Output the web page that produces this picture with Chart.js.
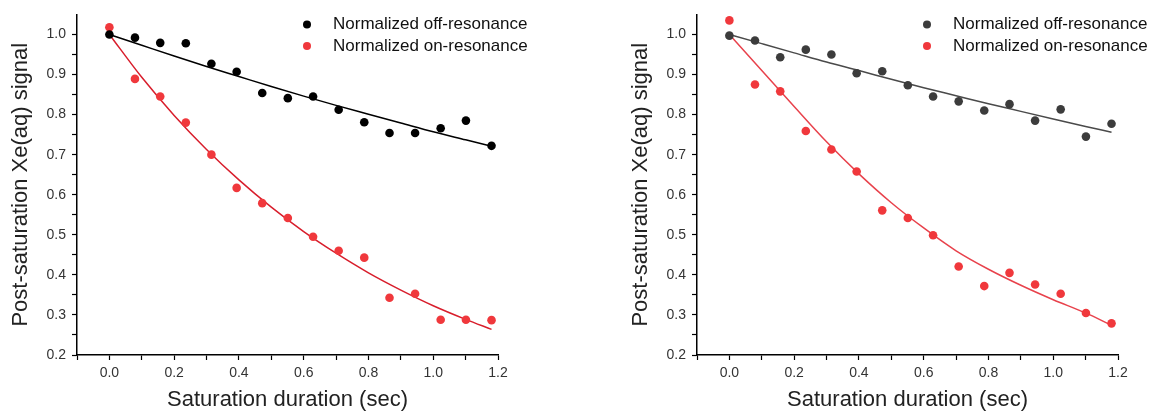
<!DOCTYPE html>
<html>
<head>
<meta charset="utf-8">
<script src="https://cdn.jsdelivr.net/npm/chart.js@4.4.1/dist/chart.umd.min.js"></script>
<style>
  body { margin: 0; background: #fff; }
  #wrap { position: relative; width: 1156px; height: 414px; }
  canvas { position: absolute; top: 0; }
</style>
</head>
<body>
<div id="wrap">
  <canvas id="chartA" width="620" height="414" style="left:0"></canvas>
  <canvas id="chartB" width="536" height="414" style="left:620px"></canvas>
</div>
<script>
// saturation duration (sec) of each measurement
const duration = [0, 0.079, 0.157, 0.236, 0.315, 0.393, 0.472, 0.551, 0.629, 0.708, 0.787, 0.865, 0.944, 1.023, 1.101, 1.18];

// left panel
const offResA = [1.000, 0.992, 0.979, 0.978, 0.927, 0.907, 0.854, 0.841, 0.845, 0.812, 0.781, 0.754, 0.754, 0.766, 0.785, 0.722];
const onResA  = [1.018, 0.889, 0.845, 0.780, 0.700, 0.617, 0.579, 0.542, 0.495, 0.460, 0.443, 0.343, 0.353, 0.288, 0.288, 0.287];
// right panel
const offResB = [0.997, 0.985, 0.943, 0.962, 0.950, 0.903, 0.908, 0.873, 0.845, 0.833, 0.810, 0.826, 0.785, 0.813, 0.745, 0.777];
const onResB  = [1.035, 0.875, 0.858, 0.759, 0.713, 0.658, 0.561, 0.542, 0.499, 0.421, 0.372, 0.405, 0.376, 0.353, 0.305, 0.279];

// fitted curves
const fitDuration = [0, 0.1, 0.2, 0.3, 0.4, 0.5, 0.6, 0.7, 0.8, 0.9, 1.0, 1.1, 1.18];
const offFitA = [1.000, 0.973, 0.946, 0.920, 0.895, 0.870, 0.846, 0.823, 0.801, 0.779, 0.757, 0.737, 0.721];
const onFitA  = [1.000, 0.893, 0.798, 0.713, 0.637, 0.569, 0.508, 0.454, 0.405, 0.362, 0.323, 0.289, 0.264];
const offFitB = [1.000, 0.977, 0.954, 0.931, 0.910, 0.888, 0.867, 0.847, 0.827, 0.808, 0.789, 0.770, 0.756];
const onFitB  = [1.000, 0.910, 0.820, 0.732, 0.652, 0.580, 0.517, 0.460, 0.414, 0.374, 0.338, 0.305, 0.274];

const xLabels = ["0.0", "0.2", "0.4", "0.6", "0.8", "1.0", "1.2"];
const yLabels = ["0.2", "0.3", "0.4", "0.5", "0.6", "0.7", "0.8", "0.9", "1.0"];

const FONT = '"Liberation Sans", Arial, sans-serif';
Chart.defaults.font.family = FONT;

function pickLabel(value, list) {
  const v = Math.round(value * 100) / 100;
  const s = v.toFixed(1);
  return list.includes(s) && Math.abs(v - parseFloat(s)) < 1e-6 ? s : "";
}

const insideLegend = {
  id: "insideLegend",
  afterDatasetsDraw(chart) {
    const ctx = chart.ctx;
    const a = chart.chartArea;
    ctx.save();
    ctx.font = "17px " + FONT;
    ctx.textBaseline = "middle";
    chart.data.datasets.filter(d => !d.isFit).forEach((d, i) => {
      const y = a.top + 10 + i * 21.5;
      ctx.fillStyle = d.pointBackgroundColor;
      ctx.beginPath();
      ctx.arc(a.left + 230, y, 4, 0, Math.PI * 2);
      ctx.fill();
      ctx.fillStyle = "#111";
      ctx.fillText(d.label, a.left + 256, y);
    });
    ctx.restore();
  }
};

function pts(xs, ys) {
  return xs.map((x, i) => ({ x: x, y: ys[i] }));
}

function makeChart(id, off, on, offFit, onFit, col, rightPad) {
  new Chart(document.getElementById(id), {
    type: "scatter",
    data: {
      datasets: [
        {
          label: "Normalized off-resonance",
          data: pts(duration, off),
          pointRadius: 4.3,
          pointBackgroundColor: col.off,
          pointBorderWidth: 0,
          showLine: false,
        },
        {
          label: "Normalized on-resonance",
          data: pts(duration, on),
          pointRadius: 4.3,
          pointBackgroundColor: col.on,
          pointBorderWidth: 0,
          showLine: false,
        },
        {
          label: "off fit",
          isFit: true,
          data: pts(fitDuration, offFit),
          showLine: true,
          pointRadius: 0,
          borderColor: col.offLine,
          borderWidth: 1.5,
          cubicInterpolationMode: "monotone",
        },
        {
          label: "on fit",
          isFit: true,
          data: pts(fitDuration, onFit),
          showLine: true,
          pointRadius: 0,
          borderColor: col.onLine,
          borderWidth: 1.5,
          cubicInterpolationMode: "monotone",
        },
      ],
    },
    options: {
      responsive: false,
      animation: false,
      layout: { padding: { top: 14, right: rightPad, left: 0, bottom: 0 } },
      plugins: { legend: { display: false }, tooltip: { enabled: false } },
      scales: {
        x: {
          type: "linear",
          min: -0.1,
          max: 1.2,
          afterFit: s => { s.height = 59; },
          border: { color: "#000", width: 1.5 },
          grid: { drawOnChartArea: false, tickLength: 5, tickColor: "#000", tickWidth: 1.2 },
          ticks: {
            stepSize: 0.1,
            maxTicksLimit: 100,
            autoSkip: false,
            maxRotation: 0,
            padding: 5,
            color: "#333",
            font: { size: 14 },
            callback: v => pickLabel(v, xLabels),
          },
          title: {
            display: true,
            text: "Saturation duration (sec)",
            color: "#222",
            font: { size: 22 },
            padding: { top: 0, bottom: 1 },
          },
        },
        y: {
          min: 0.2,
          max: 1.05,
          afterFit: s => { s.width = 77; },
          border: { color: "#000", width: 1.5 },
          grid: {
            drawOnChartArea: false,
            tickLength: 5,
            tickWidth: 1.2,
            tickColor: c => (c.tick && c.tick.value > 1.04 ? "rgba(0,0,0,0)" : "#000"),
          },
          ticks: {
            stepSize: 0.05,
            maxTicksLimit: 100,
            autoSkip: false,
            padding: 6,
            color: "#333",
            font: { size: 14 },
            callback: v => pickLabel(v, yLabels),
          },
          title: {
            display: true,
            text: "Post-saturation Xe(aq) signal",
            color: "#222",
            font: { size: 22 },
            padding: { top: 8, bottom: 0 },
          },
        },
      },
    },
    plugins: [insideLegend],
  });
}

makeChart("chartA", offResA, onResA, offFitA, onFitA,
  { off: "#000000", on: "#f0383c", offLine: "#000000", onLine: "#d81e2c" }, 122);
makeChart("chartB", offResB, onResB, offFitB, onFitB,
  { off: "#3c3c3c", on: "#f0383c", offLine: "#4a4a4a", onLine: "#e8424c" }, 38);
</script>
</body>
</html>
